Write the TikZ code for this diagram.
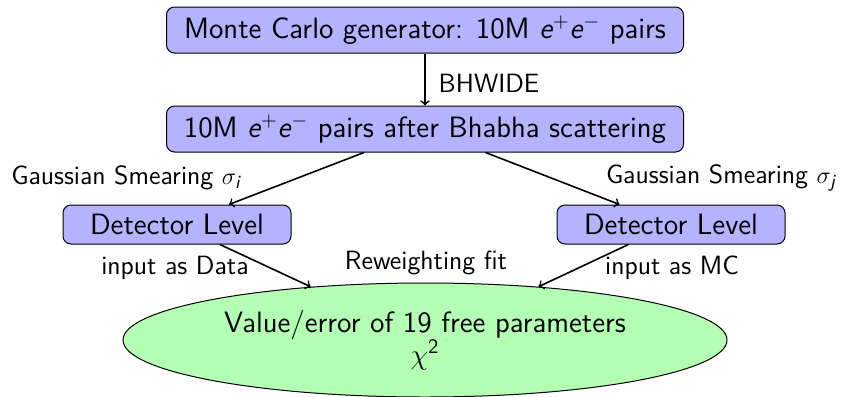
\documentclass[tikz,border=0pt]{standalone}
\usepackage{amsmath}
\usetikzlibrary{shapes.geometric}
\definecolor{boxblue}{RGB}{179,179,255}
\definecolor{ellgreen}{RGB}{179,255,179}
\newcommand{\ie}{\textit{e}}
\begin{document}
\begin{tikzpicture}[x=0.5pt,y=-0.5pt,
  every node/.style={font=\sffamily},
  box/.style={draw, line width=0.5pt, fill=boxblue, rounded corners=4pt, inner sep=0pt, font=\sffamily\fontsize{14.7}{17}\selectfont},
  bigbox/.style={box, minimum width=258.5pt, minimum height=23pt},
  detbox/.style={box, minimum width=114pt, minimum height=19.5pt},
  ell/.style={ellipse, draw, line width=0.5pt, fill=ellgreen, inner sep=0pt, minimum width=302pt, minimum height=57pt, align=center, font=\sffamily\fontsize{14.7}{17}\selectfont},
  lab/.style={inner sep=0pt, font=\sffamily\fontsize{13.2}{16}\selectfont},
  arr/.style={->, line width=0.8pt}]
\useasboundingbox (0,0) rectangle (844,396);
\node[bigbox] (mc) at (425,30) {Monte Carlo generator: 10M \ie$^+$\ie$^-$ pairs};
\node[bigbox] (bh) at (425,129) {10M \ie$^+$\ie$^-$ pairs after Bhabha scattering};
\node[detbox] (dl) at (177,224.5) {Detector Level};
\node[detbox] (dr) at (671,224.5) {Detector Level};
\node[ell] (fit) at (425,340) {Value/error of 19 free parameters\\[-1pt] $\chi^{\textsf{2}}$};
\draw[arr] (mc) -- (bh);
\draw[arr] (bh) -- (dl);
\draw[arr] (bh) -- (dr);
\draw[arr] (dl) -- (fit);
\draw[arr] (dr) -- (fit);
\node[lab] (lbh) at (489,83) {BHWIDE};
\node[lab] (lgi) at (126,178) {Gaussian Smearing $\sigma_{\textit{i}}$};
\node[lab] (lgj) at (721,178) {Gaussian Smearing $\sigma_{\textit{j}}$};
\node[lab] (ld) at (175,268) {input as Data};
\node[lab] (lrw) at (426,263) {Reweighting fit};
\node[lab] (lm) at (672,268) {input as MC};
\end{tikzpicture}
\end{document}
